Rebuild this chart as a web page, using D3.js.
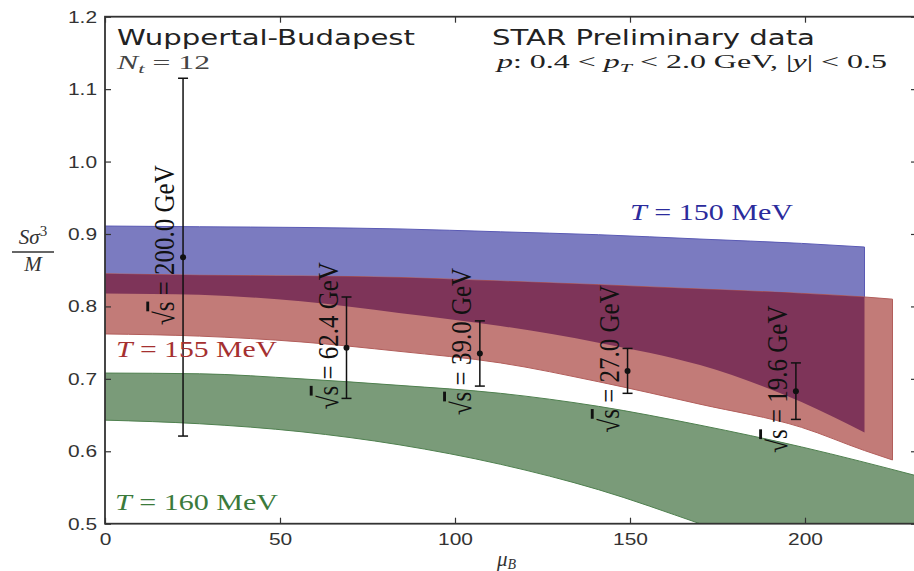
<!DOCTYPE html>
<html><head><meta charset="utf-8">
<script src="https://cdn.jsdelivr.net/npm/d3@7"></script>
<style>body{margin:0;background:#fff}svg{display:block}</style>
</head><body><svg id="c" width="914" height="571"></svg>
<script>
// ---- data ----
const xTicks = [0, 50, 100, 150, 200];
const yTicks = [0.5, 0.6, 0.7, 0.8, 0.9, 1.0, 1.1, 1.2];

const blueMu     = [0, 27, 56, 84, 113, 141, 170, 199, 217];
const blueTop    = [0.911, 0.910, 0.909, 0.907, 0.903, 0.899, 0.893, 0.887, 0.882];
const blueBottom = [0.818, 0.816, 0.807, 0.791, 0.773, 0.750, 0.719, 0.668, 0.626];

const redMu      = [0, 27, 56, 84, 113, 141, 170, 199, 217, 225];
const redTop     = [0.845, 0.843, 0.842, 0.840, 0.835, 0.830, 0.824, 0.818, 0.813, 0.810];
const redBottom  = [0.762, 0.759, 0.751, 0.738, 0.722, 0.696, 0.665, 0.633, 0.601, 0.588];

const greenMu     = [0, 27, 56, 84, 113, 141, 170, 199, 232];
const greenTop    = [0.708, 0.707, 0.700, 0.691, 0.680, 0.662, 0.636, 0.606, 0.566];
const greenBottom = [0.643, 0.638, 0.627, 0.609, 0.582, 0.547, 0.500, 0.450, 0.380];

const energies = ["200.0", "62.4", "39.0", "27.0", "19.6"];
const pointMu  = [22.3, 69.0, 107.1, 149.3, 197.4];
const pointVal = [0.868, 0.743, 0.735, 0.711, 0.683];
const pointErr = [0.247, 0.070, 0.045, 0.031, 0.039];

const tempLabels = ["150", "155", "160"];

// ---- layout ----
const svg = d3.select("#c");
const x = d3.scaleLinear().domain([0, 232]).range([105, 917]);
const y = d3.scaleLinear().domain([0.5, 1.2]).range([523.7, 16.7]);
const SERIF = "'Liberation Serif', 'DejaVu Serif', serif";
const SANS = "'DejaVu Sans', sans-serif";

svg.append("defs").append("clipPath").attr("id", "clip").append("rect")
  .attr("x", x(0)).attr("y", y(1.2)).attr("width", x(232) - x(0)).attr("height", y(0.5) - y(1.2));

const plot = svg.append("g").attr("clip-path", "url(#clip)");

function band(mu, lo, hi) { return mu.map((m, i) => ({mu: m, lo: lo[i], hi: hi[i]})); }
const area = d3.area().x(d => x(d.mu)).y0(d => y(d.lo)).y1(d => y(d.hi)).curve(d3.curveMonotoneX);

const greenBand = band(greenMu, greenBottom, greenTop);
const blueBand = band(blueMu, blueBottom, blueTop);
const redBand = band(redMu, redBottom, redTop);
const overlapBand = blueMu.map((m, i) => ({mu: m,
  lo: Math.max(blueBottom[i], redBottom[i]), hi: Math.min(blueTop[i], redTop[i])}));

plot.append("path").datum(greenBand).attr("d", area)
  .attr("fill", "#7a9b79").attr("stroke", "#4f804f").attr("stroke-width", 1);
plot.append("path").datum(blueBand).attr("d", area)
  .attr("fill", "#7b7bc0").attr("stroke", "#5a5ab4").attr("stroke-width", 1);
plot.append("path").datum(redBand).attr("d", area)
  .attr("fill", "#c27b78").attr("stroke", "#b25e5b").attr("stroke-width", 1);
plot.append("path").datum(overlapBand).attr("d", area)
  .attr("fill", "#7e3459").attr("stroke", "none");

// ---- error bars ----
const pts = energies.map((e, i) => ({e, mu: pointMu[i], v: pointVal[i], err: pointErr[i]}));
const eb = plot.append("g").attr("stroke", "#111").attr("stroke-width", 1.5);
pts.forEach(p => {
  const cx = x(p.mu);
  eb.append("line").attr("x1", cx).attr("x2", cx).attr("y1", y(p.v - p.err)).attr("y2", y(p.v + p.err));
  [p.v - p.err, p.v + p.err].forEach(v =>
    eb.append("line").attr("x1", cx - 5).attr("x2", cx + 5).attr("y1", y(v)).attr("y2", y(v)));
  plot.append("circle").attr("cx", cx).attr("cy", y(p.v)).attr("r", 3).attr("fill", "#111");
});

pts.forEach(p => {
  const t = plot.append("text")
    .attr("transform", `translate(${x(p.mu) - 9},${y(p.v) - 12}) scale(1.15,1) rotate(-90)`)
    .attr("text-anchor", "middle").attr("font-family", SERIF).attr("font-size", 25).attr("fill", "#111");
  t.append("tspan").text("√");
  t.append("tspan").style("text-decoration", "overline").text("s");
  t.append("tspan").text(" = " + p.e + " GeV");
});

// ---- axes ----
function stretch(sel, f) {
  sel.each(function() {
    const l = this.getComputedTextLength();
    d3.select(this).attr("textLength", l * f).attr("lengthAdjust", "spacingAndGlyphs");
  });
}
const ax = svg.append("g").attr("font-family", SANS);
const axL = ax.append("g").attr("transform", `translate(${x(0)},0)`)
  .call(d3.axisLeft(y).tickValues(yTicks).tickFormat(d3.format(".1f")).tickSize(-6).tickSizeOuter(0).tickPadding(8));
const axB = ax.append("g").attr("transform", `translate(0,${y(0.5)})`)
  .call(d3.axisBottom(x).tickValues(xTicks).tickFormat(d3.format("d")).tickSize(-6).tickSizeOuter(0).tickPadding(9));
const axT = ax.append("g").attr("transform", `translate(0,${y(1.2)})`)
  .call(d3.axisTop(x).tickValues(xTicks).tickFormat("").tickSize(-6).tickSizeOuter(0));
const axR = ax.append("g").attr("transform", `translate(${x(232)},0)`)
  .call(d3.axisRight(y).tickValues(yTicks).tickFormat("").tickSize(-6).tickSizeOuter(0));
[axL, axB, axT, axR].forEach(g => {
  g.select(".domain").remove();
  g.selectAll(".tick line").attr("stroke", "#333").attr("stroke-width", 1.2);
  g.selectAll("text").attr("font-size", 17).attr("fill", "#333");
});
stretch(axL.selectAll("text"), 1.23);
stretch(axB.selectAll("text"), 1.23);

svg.append("rect").attr("x", x(0)).attr("y", y(1.2)).attr("width", x(232) - x(0)).attr("height", y(0.5) - y(1.2))
  .attr("fill", "none").attr("stroke", "#333").attr("stroke-width", 1.8);

// axis titles
const xl = svg.append("text").attr("x", 497).attr("y", 566).attr("font-family", SERIF).attr("font-size", 21).attr("fill", "#333");
xl.append("tspan").attr("font-style", "italic").text("μ");
xl.append("tspan").attr("font-style", "italic").attr("font-size", 14).attr("dy", 3).text("B");

const yl = svg.append("g").attr("font-family", SERIF).attr("fill", "#333");
const num = yl.append("text").attr("x", 33).attr("y", 244).attr("text-anchor", "middle").attr("font-size", 21);
num.append("tspan").attr("font-style", "italic").text("Sσ");
num.append("tspan").attr("font-size", 15).attr("dy", -8).text("3");
yl.append("line").attr("x1", 12).attr("x2", 54).attr("y1", 252).attr("y2", 252).attr("stroke", "#333").attr("stroke-width", 1.3);
yl.append("text").attr("x", 33).attr("y", 271).attr("text-anchor", "middle").attr("font-size", 21)
  .attr("font-style", "italic").text("M");

// ---- annotations ----
svg.append("text").attr("x", 117).attr("y", 45).attr("font-family", SANS).attr("font-size", 21)
  .attr("fill", "#222").attr("textLength", 298).attr("lengthAdjust", "spacingAndGlyphs").text("Wuppertal-Budapest");
const nt = svg.append("text").attr("x", 117).attr("y", 69).attr("font-family", SERIF).attr("font-size", 18)
  .attr("fill", "#444").attr("textLength", 93).attr("lengthAdjust", "spacingAndGlyphs");
nt.append("tspan").attr("font-style", "italic").text("N");
nt.append("tspan").attr("font-style", "italic").attr("font-size", 13).attr("dy", 4).text("t");
nt.append("tspan").attr("dy", -4).text(" = 12");

svg.append("text").attr("x", 492).attr("y", 45).attr("font-family", SANS).attr("font-size", 21)
  .attr("fill", "#222").attr("textLength", 323).attr("lengthAdjust", "spacingAndGlyphs").text("STAR Preliminary data");
const pt = svg.append("text").attr("x", 497).attr("y", 68).attr("font-family", SERIF).attr("font-size", 19)
  .attr("fill", "#222").attr("textLength", 390).attr("lengthAdjust", "spacingAndGlyphs");
pt.append("tspan").attr("font-style", "italic").text("p");
pt.append("tspan").text(": 0.4 < ");
pt.append("tspan").attr("font-style", "italic").text("p");
pt.append("tspan").attr("font-style", "italic").attr("font-size", 13).attr("dy", 4).text("T");
pt.append("tspan").attr("dy", -4).text(" < 2.0 GeV, |");
pt.append("tspan").attr("font-style", "italic").text("y");
pt.append("tspan").text("| < 0.5");

function tLabel(xp, yp, val, color, w) {
  const t = svg.append("text").attr("x", xp).attr("y", yp).attr("font-family", SERIF).attr("font-size", 24)
    .attr("fill", color).attr("textLength", w).attr("lengthAdjust", "spacingAndGlyphs");
  t.append("tspan").attr("font-style", "italic").text("T");
  t.append("tspan").text(" = " + val + " MeV");
}
tLabel(630, 220, tempLabels[0], "#2b2b9c", 163);
tLabel(116, 357, tempLabels[1], "#a53030", 161);
tLabel(115, 510, tempLabels[2], "#3b7a3b", 163);
</script></body></html>
